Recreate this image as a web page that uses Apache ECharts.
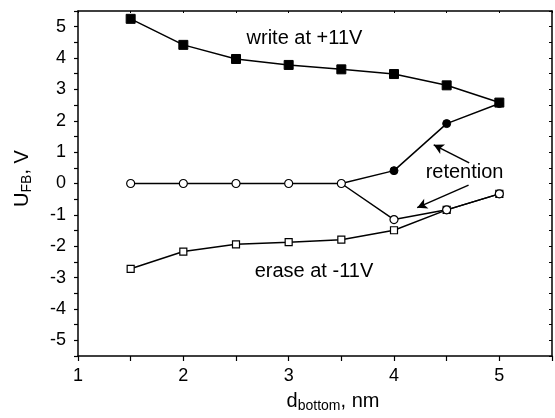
<!DOCTYPE html>
<html>
<head>
<meta charset="utf-8">
<script src="https://cdn.jsdelivr.net/npm/echarts@6/dist/echarts.min.js"></script>
<style>
  html, body { margin: 0; padding: 0; background: #fff; overflow: hidden; }
  #chart { width: 555px; height: 418px; }
</style>
</head>
<body>
<div id="chart"></div>
<script>
// 数据
const dBottom = [1.5, 2, 2.5, 3, 3.5, 4, 4.5, 5];
const writeVals = [5.25, 4.42, 3.97, 3.78, 3.64, 3.49, 3.13, 2.58];
const retWriteX = [3.5, 4, 4.5, 5];
const retWriteVals = [0, 0.41, 1.91, 2.55];
const retEraseVals = [0, 0, 0, 0, 0, -1.15, -0.84, -0.33];
const eraseVals = [-2.72, -2.17, -1.94, -1.87, -1.79, -1.49, -0.84, -0.33];

const font = 'Liberation Sans, Arial, sans-serif';

function pairs(xs, ys) {
  return xs.map((x, i) => [x, ys[i]]);
}

const chart = echarts.init(document.getElementById('chart'), null, { renderer: 'canvas' });

const intLabel = v => (Math.abs(v - Math.round(v)) < 1e-6 ? String(Math.round(v)) : '');

const lineBase = {
  type: 'line',
  lineStyle: { color: '#000', width: 1.5 },
  animation: false,
  z: 3
};

const nameRich = {
  n: { fontFamily: font, fontSize: 20, color: '#000' },
  s: { fontFamily: font, fontSize: 14, color: '#000', padding: [9, 0, 0, 0] }
};

chart.setOption({
  animation: false,
  grid: { left: 78, right: 1, top: 11, bottom: 51 },
  xAxis: [{
    type: 'value',
    min: 1, max: 5.5, interval: 0.5,
    position: 'bottom',
    name: '{n|d}{s|bottom}{n|, nm}',
    nameLocation: 'middle',
    nameGap: 34,
    nameTextStyle: { padding: [0, 0, 0, 36], rich: nameRich },
    axisLine: { onZero: false, lineStyle: { color: '#000', width: 1.5 } },
    axisTick: { inside: false, length: 5, lineStyle: { color: '#000', width: 1.2 } },
    axisLabel: { formatter: intLabel, color: '#000', fontFamily: font, fontSize: 18, margin: 11 },
    splitLine: { show: false }
  }, {
    type: 'value',
    min: 1, max: 5.5, interval: 0.5,
    position: 'top',
    axisLine: { onZero: false, lineStyle: { color: '#000', width: 1.5 } },
    axisTick: { inside: true, length: 2, lineStyle: { color: '#000' } },
    axisLabel: { show: false },
    splitLine: { show: false }
  }],
  yAxis: [{
    type: 'value',
    min: -5.5, max: 5.5, interval: 0.5,
    position: 'left',
    name: '{n|U}{s|FB}{n|, V}',
    nameLocation: 'middle',
    nameRotate: 90,
    nameGap: 44,
    nameTextStyle: { padding: [0, 0, 0, 10], rich: nameRich },
    axisLine: { onZero: false, lineStyle: { color: '#000', width: 1.5 } },
    axisTick: { inside: false, length: 4, lineStyle: { color: '#000', width: 1.2 } },
    axisLabel: { formatter: intLabel, color: '#000', fontFamily: font, fontSize: 18, margin: 12 },
    splitLine: { show: false }
  }, {
    type: 'value',
    min: -5.5, max: 5.5, interval: 0.5,
    position: 'right',
    axisLine: { onZero: false, lineStyle: { color: '#000', width: 1.5 } },
    axisTick: { inside: true, length: 3, lineStyle: { color: '#000' } },
    axisLabel: { show: false },
    splitLine: { show: false }
  }],
  series: [
    Object.assign({}, lineBase, {
      name: 'write',
      data: pairs(dBottom, writeVals),
      symbol: 'rect', symbolSize: 9,
      itemStyle: { color: '#000', borderColor: '#000' },
      markPoint: {
        symbol: 'circle', symbolSize: 0,
        label: { show: true, position: 'inside', color: '#000', fontFamily: font, fontSize: 20, formatter: '{b}' },
        data: [
          { name: 'write at +11V', coord: [3.15, 4.61] },
          { name: 'erase at -11V', coord: [3.24, -2.79] },
          { name: 'retention', coord: [4.67, 0.34] }
        ]
      }
    }),
    Object.assign({}, lineBase, {
      name: 'erase',
      data: pairs(dBottom, eraseVals),
      symbol: 'rect', symbolSize: 7,
      itemStyle: { color: '#fff', borderColor: '#000', borderWidth: 1.2 }
    }),
    Object.assign({}, lineBase, {
      name: 'retention write',
      data: pairs(retWriteX, retWriteVals).map((p, i) => i === 0 ? { value: p, symbol: 'none' } : p),
      symbol: 'circle', symbolSize: 8,
      itemStyle: { color: '#000', borderColor: '#000' }
    }),
    Object.assign({}, lineBase, {
      name: 'retention erase',
      data: pairs(dBottom, retEraseVals),
      symbol: 'circle', symbolSize: 8,
      itemStyle: { color: '#fff', borderColor: '#000', borderWidth: 1.2 },
      markLine: {
        silent: true,
        symbol: ['none', 'arrow'],
        symbolSize: [8, 10],
        label: { show: false },
        lineStyle: { color: '#000', width: 1.5, type: 'solid' },
        data: [
          [{ coord: [4.714, 0.655] }, { coord: [4.377, 1.234] }],
          [{ coord: [4.708, -0.05] }, { coord: [4.22, -0.77] }]
        ]
      }
    })
  ]
});
</script>
</body>
</html>
